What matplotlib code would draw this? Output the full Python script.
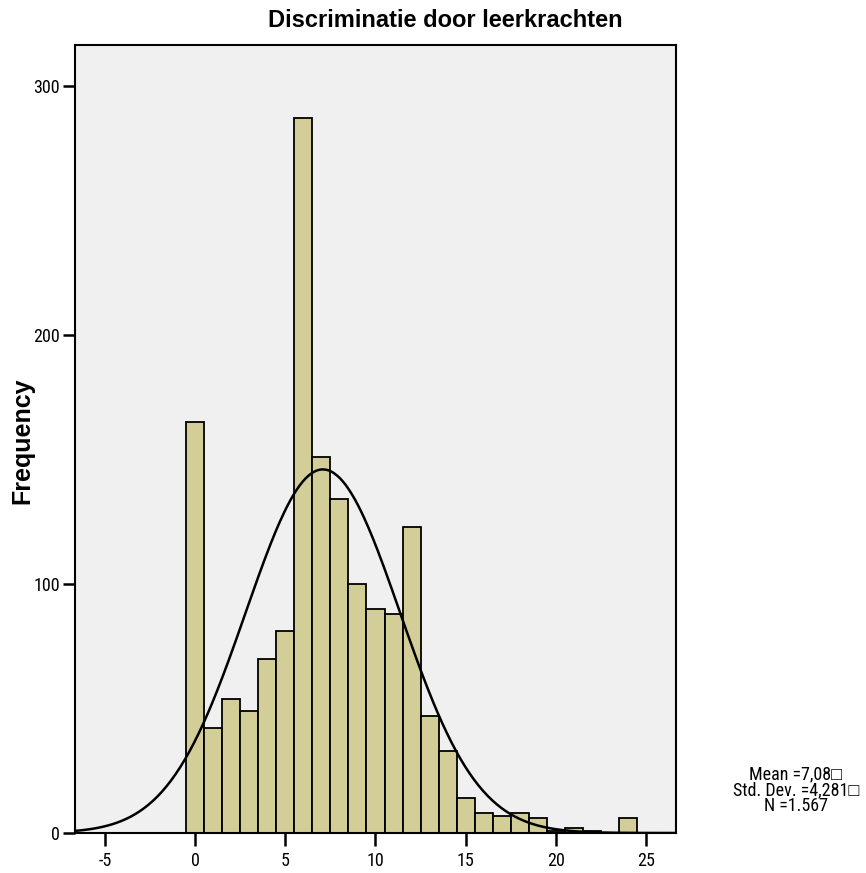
import numpy as np
import matplotlib.pyplot as plt

plt.rcParams['font.family'] = ['Roboto Condensed', 'Liberation Sans', 'DejaVu Sans']
plt.rcParams['axes.unicode_minus'] = False

# histogram bins (value = centre of bin, width 1)
bin_centres = list(range(0, 25))
counts = [165, 42, 54, 49, 70, 81, 287, 151, 134, 100, 90, 88, 123,
          47, 33, 14, 8, 7, 8, 6, 1, 2, 1, 0, 6]

mean_val = 7.08
sd_val = 4.281
n_val = 1567

x_ticks = [-5, 0, 5, 10, 15, 20, 25]
y_ticks = [0, 100, 200, 300]

fig = plt.figure(figsize=(8.66, 8.73), dpi=100)
ax = fig.add_axes([0.0866, 0.0458, 0.694, 0.9027])
ax.set_facecolor('#F0F0F0')

ax.bar(bin_centres, counts, width=1.0, color='#D3CE97', edgecolor='black',
       linewidth=1.3, zorder=2)

# normal curve from the stats shown in the chart
xs = np.linspace(-6.67, 26.67, 400)
ys = n_val * 1.0 / (sd_val * np.sqrt(2 * np.pi)) * np.exp(-0.5 * ((xs - mean_val) / sd_val) ** 2)
ax.plot(xs, ys, color='black', linewidth=1.8, zorder=3)

ax.set_xlim(-6.67, 26.67)
ax.set_ylim(0, 316.5)
ax.set_xticks(x_ticks)
ax.set_yticks(y_ticks)
ax.tick_params(direction='out', length=9, width=1.8, labelsize=13)
ax.tick_params(axis='y', pad=2)
ax.tick_params(axis='x', pad=5)
for s in ax.spines.values():
    s.set_linewidth(1.5)

fig.text(0.514, 0.977, 'Discriminatie door leerkrachten', ha='center', va='center',
         family=['Liberation Sans', 'DejaVu Sans'], fontsize=17, fontweight='bold')
ax.set_ylabel('Frequency', family=['Liberation Sans', 'DejaVu Sans'], fontsize=18,
              fontweight='bold')
ax.yaxis.set_label_coords(-0.068, 0.498)

fig.text(0.919, 0.095, 'Mean =7,08\u25a1\nStd. Dev. =4,281\u25a1\nN =1.567',
         ha='center', va='center', fontsize=13, linespacing=0.82)

plt.savefig('out.png')
